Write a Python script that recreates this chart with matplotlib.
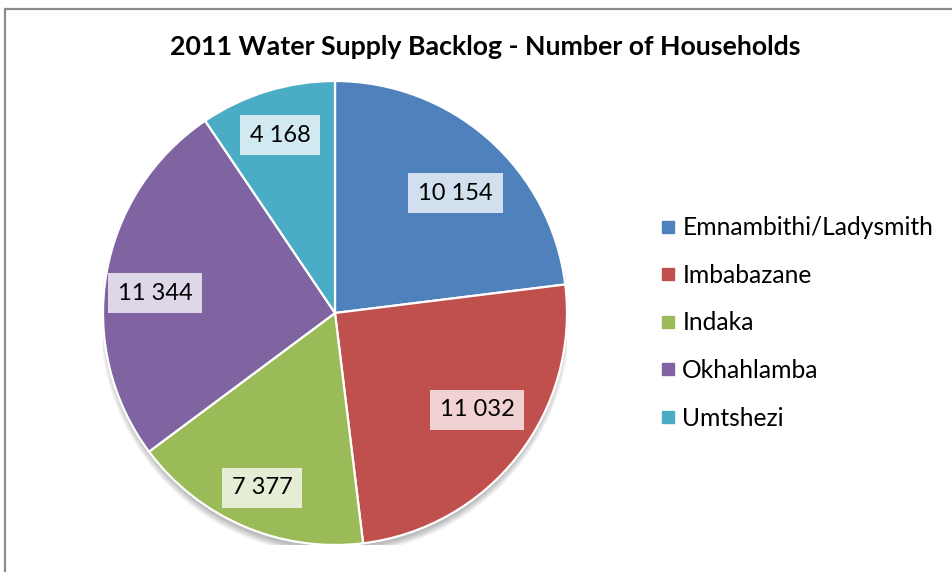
import matplotlib.pyplot as plt
from matplotlib.patches import Rectangle, Circle
from matplotlib.lines import Line2D
import numpy as np

plt.rcParams['font.family'] = ['Lato', 'DejaVu Sans']

# data
municipalities = ['Emnambithi/Ladysmith', 'Imbabazane', 'Indaka', 'Okhahlamba', 'Umtshezi']
households = [10154, 11032, 7377, 11344, 4168]
value_labels = ['10 154', '11 032', '7 377', '11 344', '4 168']
colors = ['#4F81BD', '#C0504D', '#9BBB59', '#8064A2', '#4BACC6']
# label centres, in radius units from the pie centre (Excel best fit placement)
label_xy = [(0.519, 0.517), (0.612, -0.418), (-0.315, -0.754), (-0.776, 0.086), (-0.237, 0.767)]

W, H = 952, 572
fig = plt.figure(figsize=(W / 100, H / 100), dpi=100)

# outer chart frame (left / top visible)
fig.patches.append(Rectangle((5 / W, -0.1), 1.2, (H - 9) / H + 0.1, transform=fig.transFigure,
                             fill=False, edgecolor='#8c8c8c', linewidth=1.6))

fig.text(485 / W, 1 - 47 / H, '2011 Water Supply Backlog - Number of Households',
         ha='center', va='center', fontsize=19.3, fontweight='bold')

# pie axes: centre (335, 313), radius 232 px
cx, cy, r = 335, 313, 232
ax = fig.add_axes([(cx - r) / W, (H - cy - r) / H, 2 * r / W, 2 * r / H])

# soft shadow under the pie
for k in range(8):
    ax.add_patch(Circle((0.0, -0.03), 0.985 + 0.004 * k, facecolor='black',
                        edgecolor='none', alpha=0.035, zorder=0))

wedges, _ = ax.pie(households, colors=colors, startangle=90, counterclock=False,
                   wedgeprops=dict(edgecolor='white', linewidth=1.6, zorder=2))
ax.set_xlim(-1, 1)
ax.set_ylim(-1, 1)
ax.set_aspect('equal')
ax.axis('off')

for (lx, ly), txt in zip(label_xy, value_labels):
    ax.text(lx, ly, txt, ha='center', va='center', fontsize=17, zorder=3,
            bbox=dict(boxstyle='square,pad=0.42', facecolor='white', edgecolor='none', alpha=0.75))

handles = [Line2D([], [], marker='s', linestyle='none', markersize=9,
                  markerfacecolor=c, markeredgecolor=c) for c in colors]
fig.legend(handles, municipalities, loc='upper left', bbox_to_anchor=(643 / W, 1 - 204 / H),
           frameon=False, fontsize=17.7, handletextpad=0.1, labelspacing=1.0,
           borderpad=0, handlelength=1.0)

fig.savefig('out.png', dpi=100)
